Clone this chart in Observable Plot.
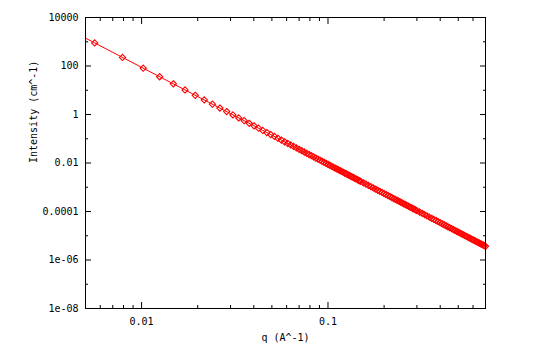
<!DOCTYPE html>
<html><head><meta charset="utf-8">
<script src="https://cdn.jsdelivr.net/npm/d3@7"></script>
<script src="https://cdn.jsdelivr.net/npm/@observablehq/plot@0.6"></script>
<style>body{margin:0;background:#fff}</style>
</head><body><div id="chart"></div>
<script>
const q = [0.0056,0.0079,0.0102,0.0125,0.0148,0.0171,0.0194,0.0217,0.0240,0.0263,0.0286,0.0309,0.0332,0.0355,0.0378,0.0401,0.0424,0.0447,0.0470,0.0493,0.0516,0.0539,0.0562,0.0585,0.0608,0.0631,0.0654,0.0677,0.0700,0.0723,0.0746,0.0769,0.0792,0.0815,0.0838,0.0861,0.0884,0.0907,0.0930,0.0953,0.0976,0.0999,0.1022,0.1045,0.1068,0.1091,0.1114,0.1137,0.1160,0.1183,0.1206,0.1229,0.1252,0.1275,0.1298,0.1321,0.1344,0.1367,0.1390,0.1413,0.1436,0.1459,0.1482,
0.150,0.155,0.160,0.165,0.170,0.175,0.180,0.185,0.190,0.195,0.200,0.205,0.210,0.215,0.220,0.225,0.230,0.235,0.240,0.245,0.250,0.255,0.260,0.265,0.270,0.275,0.280,0.285,0.290,0.295,
0.30,0.31,0.32,0.33,0.34,0.35,0.36,0.37,0.38,0.39,0.40,0.41,0.42,0.43,0.44,0.45,0.46,0.47,0.48,0.49,0.50,0.51,0.52,0.53,0.54,0.55,0.56,0.57,0.58,0.59,0.60,0.61,0.62,0.63,0.64,0.65,0.66,0.67,0.68,0.69,0.70];
const intensity = [895,226,81.3,36.0,18.34,10.29,6.21,3.97,2.652,1.839,1.315,0.965,0.724,0.554,0.431,0.340,0.2723,0.2204,0.1803,0.1490,0.1241,0.1043,0.0882,0.0751,0.0644,0.0555,0.0481,0.0419,0.0367,0.0322,0.0284,0.0252,0.02237,0.01995,0.01784,0.01601,0.01441,0.01300,0.01176,0.01067,0.00970,0.00884,0.00807,0.00738,0.00676,0.00621,0.00571,0.00527,0.00486,0.00449,0.00416,0.00386,0.00358,0.00333,0.00310,0.00289,0.00270,0.00252,0.00236,0.00221,0.00207,0.00194,0.00182,
0.001738,0.001525,0.001343,0.001187,0.001054,9.38e-4,8.38e-4,7.51e-4,6.75e-4,6.09e-4,5.50e-4,4.98e-4,4.52e-4,4.12e-4,3.76e-4,3.43e-4,3.14e-4,2.89e-4,2.65e-4,2.44e-4,2.25e-4,2.08e-4,1.93e-4,1.78e-4,1.66e-4,1.54e-4,1.43e-4,1.33e-4,1.24e-4,1.16e-4,
1.086e-4,9.53e-5,8.39e-5,7.42e-5,6.59e-5,5.86e-5,5.24e-5,4.70e-5,4.22e-5,3.80e-5,3.44e-5,3.11e-5,2.83e-5,2.57e-5,2.35e-5,2.15e-5,1.97e-5,1.80e-5,1.66e-5,1.53e-5,1.41e-5,1.30e-5,1.20e-5,1.115e-5,1.035e-5,9.62e-6,8.95e-6,8.34e-6,7.78e-6,7.26e-6,6.79e-6,6.36e-6,5.96e-6,5.59e-6,5.25e-6,4.93e-6,4.64e-6,4.37e-6,4.12e-6,3.88e-6,3.67e-6];
const fitQ = [0.005, 0.7];
const fitI = [1408, 3.67e-6];
const xMajor = [0.01, 0.1];
const xMajorLabels = ["0.01", "0.1"];
const xMinor = [0.006,0.007,0.008,0.009,0.02,0.03,0.04,0.05,0.06,0.07,0.08,0.09,0.2,0.3,0.4,0.5,0.6];
const yMajor = [1e4, 1e2, 1, 1e-2, 1e-4, 1e-6, 1e-8];
const yMajorLabels = ["10000", "100", "1", "0.01", "0.0001", "1e-06", "1e-08"];
const yMinor = [1e3, 10, 0.1, 1e-3, 1e-5, 1e-7];
const xTitle = "q (A^-1)";
const yTitle = "Intensity (cm^-1)";

const points = q.map((v, i) => ({q: v, I: intensity[i]}));
const fit = fitQ.map((v, i) => ({q: v, I: fitI[i]}));
const tickOpts = {fill: "none", label: null, stroke: "black"};

const chart = Plot.plot({
  width: 535,
  height: 351,
  marginLeft: 85,
  marginRight: 50,
  marginTop: 17,
  marginBottom: 43,
  style: {fontFamily: "DejaVu Sans Mono", fontSize: "10px", color: "black", background: "white"},
  x: {type: "log", domain: [0.005, 0.7]},
  y: {type: "log", domain: [1e-8, 1e4]},
  marks: [
    Plot.line(fit, {x: "q", y: "I", stroke: "#ff0000", strokeWidth: 1}),
    Plot.dot(points, {x: "q", y: "I", symbol: "diamond2", r: 2.8, stroke: "#ff0000", strokeWidth: 1.1, fill: "none"}),
    Plot.frame({stroke: "black"}),
    Plot.axisX(xMajor, {anchor: "bottom", tickSize: -6, ...tickOpts}),
    Plot.axisX(xMajor, {anchor: "top", tickSize: -6, ...tickOpts}),
    Plot.axisX(xMinor, {anchor: "bottom", tickSize: -3, ...tickOpts}),
    Plot.axisX(xMinor, {anchor: "top", tickSize: -3, ...tickOpts}),
    Plot.axisY(yMajor, {anchor: "left", tickSize: -6, ...tickOpts}),
    Plot.axisY(yMajor, {anchor: "right", tickSize: -6, ...tickOpts}),
    Plot.axisY(yMinor, {anchor: "left", tickSize: -3, ...tickOpts}),
    Plot.axisY(yMinor, {anchor: "right", tickSize: -3, ...tickOpts}),
    Plot.axisX(xMajor, {anchor: "bottom", tickSize: 0, tickPadding: 9, label: null, fill: "black",
      tickFormat: d => xMajorLabels[xMajor.indexOf(d)]}),
    Plot.axisY(yMajor, {anchor: "left", tickSize: 0, tickPadding: 7, label: null, fill: "black",
      tickFormat: d => yMajorLabels[yMajor.indexOf(d)]}),
    Plot.text([xTitle], {text: d => d, frameAnchor: "bottom", dy: 32, fill: "black"}),
    Plot.text([yTitle], {text: d => d, frameAnchor: "left", rotate: -90, dx: -52, fill: "black"})
  ]
});
document.getElementById("chart").appendChild(chart);
</script>
</body></html>
